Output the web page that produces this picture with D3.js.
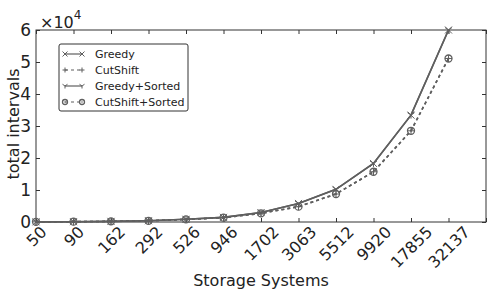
<!DOCTYPE html>
<html>
<head>
<meta charset="utf-8">
<script src="https://cdn.jsdelivr.net/npm/d3@7"></script>
<style>
  body { margin: 0; background: #fff; }
  text { font-family: "DejaVu Sans", sans-serif; fill: #222; }
</style>
</head>
<body>
<div id="chart"></div>
<script>
"use strict";

// storage system sizes (x categories)
const categories = ["50", "90", "162", "292", "526", "946", "1702", "3063", "5512", "9920", "17855", "32137"];

// total intervals per method
const greedy         = [50, 100, 200, 400, 850, 1450, 2950, 5800, 10200, 18300, 33400, 60000];
const cutShift       = [50, 100, 200, 380, 800, 1350, 2700, 4800, 8750, 15700, 28500, 51100];
const greedySorted   = [50, 100, 200, 400, 850, 1450, 2950, 5800, 10200, 18300, 33400, 60000];
const cutShiftSorted = [50, 100, 200, 380, 800, 1350, 2700, 4800, 8750, 15700, 28500, 51100];

const yTicks = [0, 1, 2, 3, 4, 5, 6];

const series = [
    { name: "Greedy",          values: greedy,         dash: null,  marker: "x" },
    { name: "CutShift",        values: cutShift,       dash: "3,3", marker: "plus" },
    { name: "Greedy+Sorted",   values: greedySorted,   dash: null,  marker: "tri" },
    { name: "CutShift+Sorted", values: cutShiftSorted, dash: "3,3", marker: "circle" }
];

const width = 487, height = 289;
const margin = { left: 36, right: 1, top: 30, bottom: 67 };
const lineColor = "#5f5f5f";

let svg = d3.select("#chart").append("svg")
    .attr("width", width)
    .attr("height", height);

// one extra empty slot on the right, like the original
let x = d3.scaleLinear()
    .domain([0, categories.length])
    .range([margin.left, width - margin.right]);

let y = d3.scaleLinear()
    .domain([0, 6])
    .range([height - margin.bottom, margin.top]);

// frame
svg.append("rect")
    .attr("x", x(0))
    .attr("y", y(6))
    .attr("width", x(categories.length) - x(0))
    .attr("height", y(0) - y(6))
    .attr("fill", "none")
    .attr("stroke", "#333")
    .attr("stroke-width", 1);

// bottom axis, ticks pointing inward
let xAxis = d3.axisBottom(x)
    .tickValues(d3.range(categories.length + 1))
    .tickSize(-4)
    .tickFormat(i => categories[i] || "");
let gx = svg.append("g")
    .attr("transform", `translate(0,${y(0)})`)
    .call(xAxis);
gx.select(".domain").remove();
gx.selectAll(".tick line").attr("stroke", "#333");
// rotated labels, box centred under the tick
gx.selectAll(".tick text")
    .attr("font-size", 16)
    .attr("text-anchor", "middle")
    .attr("dy", "0.35em")
    .attr("y", 0)
    .each(function() {
        const L = this.getComputedTextLength();
        const off = 3 + (L + 11.5) / 2 * Math.SQRT1_2;
        d3.select(this).attr("transform", `translate(0,${off}) rotate(-45)`);
    });

// top ticks
let gTop = svg.append("g")
    .attr("transform", `translate(0,${y(6)})`)
    .call(d3.axisTop(x).tickValues(d3.range(categories.length + 1)).tickSize(-4).tickFormat(""));
gTop.select(".domain").remove();
gTop.selectAll(".tick line").attr("stroke", "#333");

// left axis
let gy = svg.append("g")
    .attr("transform", `translate(${x(0)},0)`)
    .call(d3.axisLeft(y).tickValues(yTicks).tickSize(-4).tickPadding(5).tickFormat(d3.format("d")));
gy.select(".domain").remove();
gy.selectAll(".tick line").attr("stroke", "#333");
gy.selectAll(".tick text").attr("font-size", 17);

// right ticks
let gRight = svg.append("g")
    .attr("transform", `translate(${x(categories.length)},0)`)
    .call(d3.axisRight(y).tickValues(yTicks).tickSize(-4).tickFormat(""));
gRight.select(".domain").remove();
gRight.selectAll(".tick line").attr("stroke", "#333");

// exponent label
let expo = svg.append("text")
    .attr("x", 40)
    .attr("y", 28)
    .attr("font-size", 16);
expo.append("tspan").text("\u00d710");
expo.append("tspan").attr("dy", -9).attr("font-size", 12).text("4");

// axis titles
svg.append("text")
    .attr("x", (x(0) + x(categories.length)) / 2)
    .attr("y", 286)
    .attr("text-anchor", "middle")
    .attr("font-size", 16)
    .text("Storage Systems");

svg.append("text")
    .attr("transform", `translate(19,${(y(0) + y(6)) / 2 - 2}) rotate(-90)`)
    .attr("text-anchor", "middle")
    .attr("font-size", 16)
    .text("total intervals");

// draws one marker shape at (cx, cy)
function drawMarker(g, type, cx, cy, s) {
    if (type === "x") {
        g.append("path")
            .attr("d", `M${cx - s},${cy - s}L${cx + s},${cy + s}M${cx - s},${cy + s}L${cx + s},${cy - s}`)
            .attr("stroke", lineColor).attr("fill", "none").attr("stroke-width", 1);
    } else if (type === "plus") {
        g.append("path")
            .attr("d", `M${cx - s},${cy}L${cx + s},${cy}M${cx},${cy - s}L${cx},${cy + s}`)
            .attr("stroke", lineColor).attr("fill", "none").attr("stroke-width", 1);
    } else if (type === "tri") {
        g.append("path")
            .attr("d", `M${cx},${cy}L${cx},${cy + s}M${cx},${cy}L${cx - s},${cy - s * 0.7}M${cx},${cy}L${cx + s},${cy - s * 0.7}`)
            .attr("stroke", lineColor).attr("fill", "none").attr("stroke-width", 1);
    } else {
        g.append("circle")
            .attr("cx", cx).attr("cy", cy).attr("r", s)
            .attr("stroke", lineColor).attr("fill", "none").attr("stroke-width", 1.3);
        g.append("circle")
            .attr("cx", cx).attr("cy", cy).attr("r", s * 0.3)
            .attr("fill", lineColor);
    }
}

// lines and markers
let line = d3.line()
    .x((d, i) => x(i))
    .y(d => y(d / 10000));

series.forEach(s => {
    let g = svg.append("g");
    g.append("path")
        .datum(s.values)
        .attr("d", line)
        .attr("fill", "none")
        .attr("stroke", lineColor)
        .attr("stroke-width", 1.6)
        .attr("stroke-dasharray", s.dash);
    s.values.forEach((v, i) => drawMarker(g, s.marker, x(i), y(v / 10000), 3.5));
});

// legend
let legend = svg.append("g").attr("transform", "translate(59,44)");
legend.append("rect")
    .attr("width", 129)
    .attr("height", 67)
    .attr("rx", 2)
    .attr("fill", "#fff")
    .attr("stroke", "#333")
    .attr("stroke-width", 1);

series.forEach((s, i) => {
    const ly = 10 + i * 16;
    let g = legend.append("g");
    g.append("line")
        .attr("x1", 6).attr("x2", 23)
        .attr("y1", ly).attr("y2", ly)
        .attr("stroke", lineColor)
        .attr("stroke-width", 1.2)
        .attr("stroke-dasharray", s.dash);
    drawMarker(g, s.marker, 6, ly, 2.5);
    drawMarker(g, s.marker, 23, ly, 2.5);
    g.append("text")
        .attr("x", 36)
        .attr("y", ly + 4)
        .attr("font-size", 11)
        .text(s.name);
});
</script>
</body>
</html>
